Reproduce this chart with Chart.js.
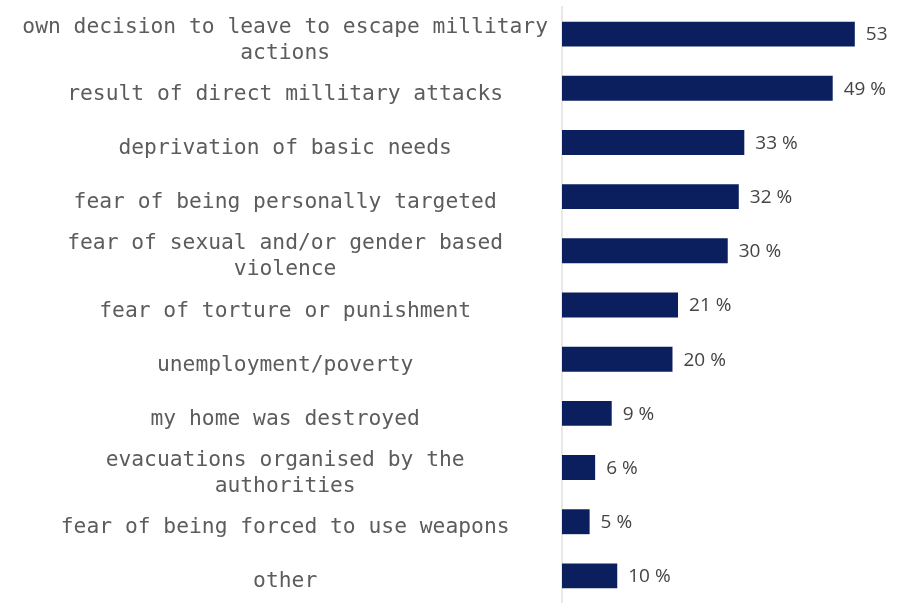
<!DOCTYPE html>
<html>
<head>
<meta charset="utf-8">
<script src="https://cdn.jsdelivr.net/npm/chart.js@4"></script>
<style>
  html, body { margin: 0; padding: 0; background: #fff; }
  #wrap { width: 900px; height: 603px; position: relative; }
</style>
</head>
<body>
<div id="wrap"><canvas id="reasonsChart"></canvas></div>
<script>
// reasons for leaving (share of respondents, %)
const categories = [
  ["own decision to leave to escape millitary", "actions"],
  "result of direct millitary attacks",
  "deprivation of basic needs",
  "fear of being personally targeted",
  ["fear of sexual and/or gender based", "violence"],
  "fear of torture or punishment",
  "unemployment/poverty",
  "my home was destroyed",
  ["evacuations organised by the", "authorities"],
  "fear of being forced to use weapons",
  "other"
];
const values = [53, 49, 33, 32, 30, 21, 20, 9, 6, 5, 10];
const valueLabels = ["53", "49 %", "33 %", "32 %", "30 %", "21 %", "20 %", "9 %", "6 %", "5 %", "10 %"];

// draw the % text right of each bar
const valueLabelPlugin = {
  id: "valueLabels",
  afterDatasetsDraw(chart) {
    const ctx = chart.ctx;
    const meta = chart.getDatasetMeta(0);
    ctx.save();
    ctx.font = "19px 'Open Sans', sans-serif";
    ctx.fillStyle = "#444";
    ctx.textAlign = "left";
    ctx.textBaseline = "middle";
    meta.data.forEach((bar, i) => {
      ctx.fillText(valueLabels[i], bar.x + 11, bar.y + 1);
    });
    ctx.restore();
  }
};

const ctx = document.getElementById("reasonsChart").getContext("2d");
new Chart(ctx, {
  type: "bar",
  data: {
    labels: categories,
    datasets: [{
      data: values,
      backgroundColor: "#0b1f5e",
      borderWidth: 0,
      barPercentage: 0.46,
      categoryPercentage: 1
    }]
  },
  options: {
    indexAxis: "y",
    responsive: true,
    maintainAspectRatio: false,
    animation: false,
    layout: { padding: { top: 7, bottom: 0, right: 1, left: 0 } },
    plugins: {
      legend: { display: false },
      tooltip: { enabled: false }
    },
    scales: {
      x: {
        display: false,
        min: 0,
        max: 61
      },
      y: {
        grid: { display: false },
        border: { display: true, color: "#e8e8e8", width: 2 },
        ticks: {
          autoSkip: false,
          crossAlign: "center",
          padding: 6,
          labelOffset: 6,
          color: "#5c5c5c",
          font: { family: "'DejaVu Sans Mono', monospace", size: 21.3, lineHeight: 1.22 }
        },
        afterFit: (scale) => {
          scale.width = 562;
          scale.paddingTop = 0;
          scale.paddingBottom = 0;
        }
      }
    }
  },
  plugins: [valueLabelPlugin]
});
</script>
</body>
</html>
